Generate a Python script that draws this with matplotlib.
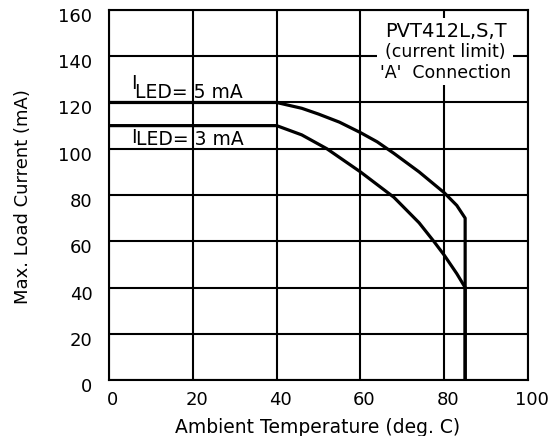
import matplotlib.pyplot as plt
import matplotlib.transforms as mtransforms
from matplotlib.patches import Rectangle

plt.rcParams['font.family'] = ['DejaVu Sans']

# curve data
temp_5ma = [0, 40, 46, 50, 55, 60, 64, 68, 71, 74, 77, 80, 83, 85, 85]
load_5ma = [120, 120, 117.5, 115, 111.5, 107, 103, 98, 94, 90, 85.5, 81, 75.5, 70, 0]
temp_3ma = [0, 40, 46, 52, 56, 60, 64, 68, 71, 74, 77.5, 80, 83, 85, 85]
load_3ma = [110, 110, 106, 100, 95, 90, 84.5, 79, 73.5, 68, 60, 54, 46, 40, 0]

x_ticks = [0, 20, 40, 60, 80, 100]
y_ticks = [0, 20, 40, 60, 80, 100, 120, 140, 160]

W, H = 555, 436
fig = plt.figure(figsize=(W / 100, H / 100), dpi=100)
ax = fig.add_axes([109 / W, 1 - 380 / H, 419 / W, 370 / H])

ax.set_xlim(0, 100)
ax.set_ylim(0, 160)
ax.set_xticks(x_ticks)
ax.set_yticks(y_ticks)
ax.grid(True, color='black', linewidth=1.5)
ax.set_axisbelow(True)
for s in ax.spines.values():
    s.set_linewidth(1.5)
ax.tick_params(length=0, labelsize=13, pad=8)
ax.tick_params(axis='y', pad=12)

# shift tick labels a bit like the original
dx = mtransforms.ScaledTranslation(4 / 100, 0, fig.dpi_scale_trans)
dy = mtransforms.ScaledTranslation(0, -5 / 100, fig.dpi_scale_trans)
for lab in ax.get_xticklabels():
    lab.set_transform(lab.get_transform() + dx)
for lab in ax.get_yticklabels():
    lab.set_transform(lab.get_transform() + dy)

ax.plot(temp_5ma, load_5ma, color='black', linewidth=2.3, zorder=3, solid_joinstyle='round')
ax.plot(temp_3ma, load_3ma, color='black', linewidth=2.3, zorder=3, solid_joinstyle='round')

# current labels
ax.text(5.2, 125.8, 'I', fontsize=13.5, ha='left', va='baseline')
ax.text(6.2, 121.9, 'LED= 5 mA', fontsize=13.5, ha='left', va='baseline')
ax.text(5.35, 102.4, 'I', fontsize=13.5, ha='left', va='baseline')
ax.text(6.4, 101.6, 'LED= 3 mA', fontsize=13.5, ha='left', va='baseline')

# white box behind the part label
ax.add_patch(Rectangle((64.0, 127.6), 32.4, 29.0, facecolor='white',
                       edgecolor='none', zorder=2))
ax.text(80.3, 148.2, 'PVT412L,S,T', fontsize=14, ha='center', va='baseline', zorder=4)
ax.text(80.3, 139.6, '(current limit)', fontsize=12.5, ha='center', va='baseline', zorder=4)
ax.text(80.3, 130.6, "'A'  Connection", fontsize=12.5, ha='center', va='baseline', zorder=4)

fig.text(318 / W, 1 - 427 / H, 'Ambient Temperature (deg. C)', fontsize=13.5,
         ha='center', va='center')
fig.text(23 / W, 1 - 197 / H, 'Max. Load Current (mA)', fontsize=13,
         ha='center', va='center', rotation=90)

fig.savefig('out.png', dpi=100)
